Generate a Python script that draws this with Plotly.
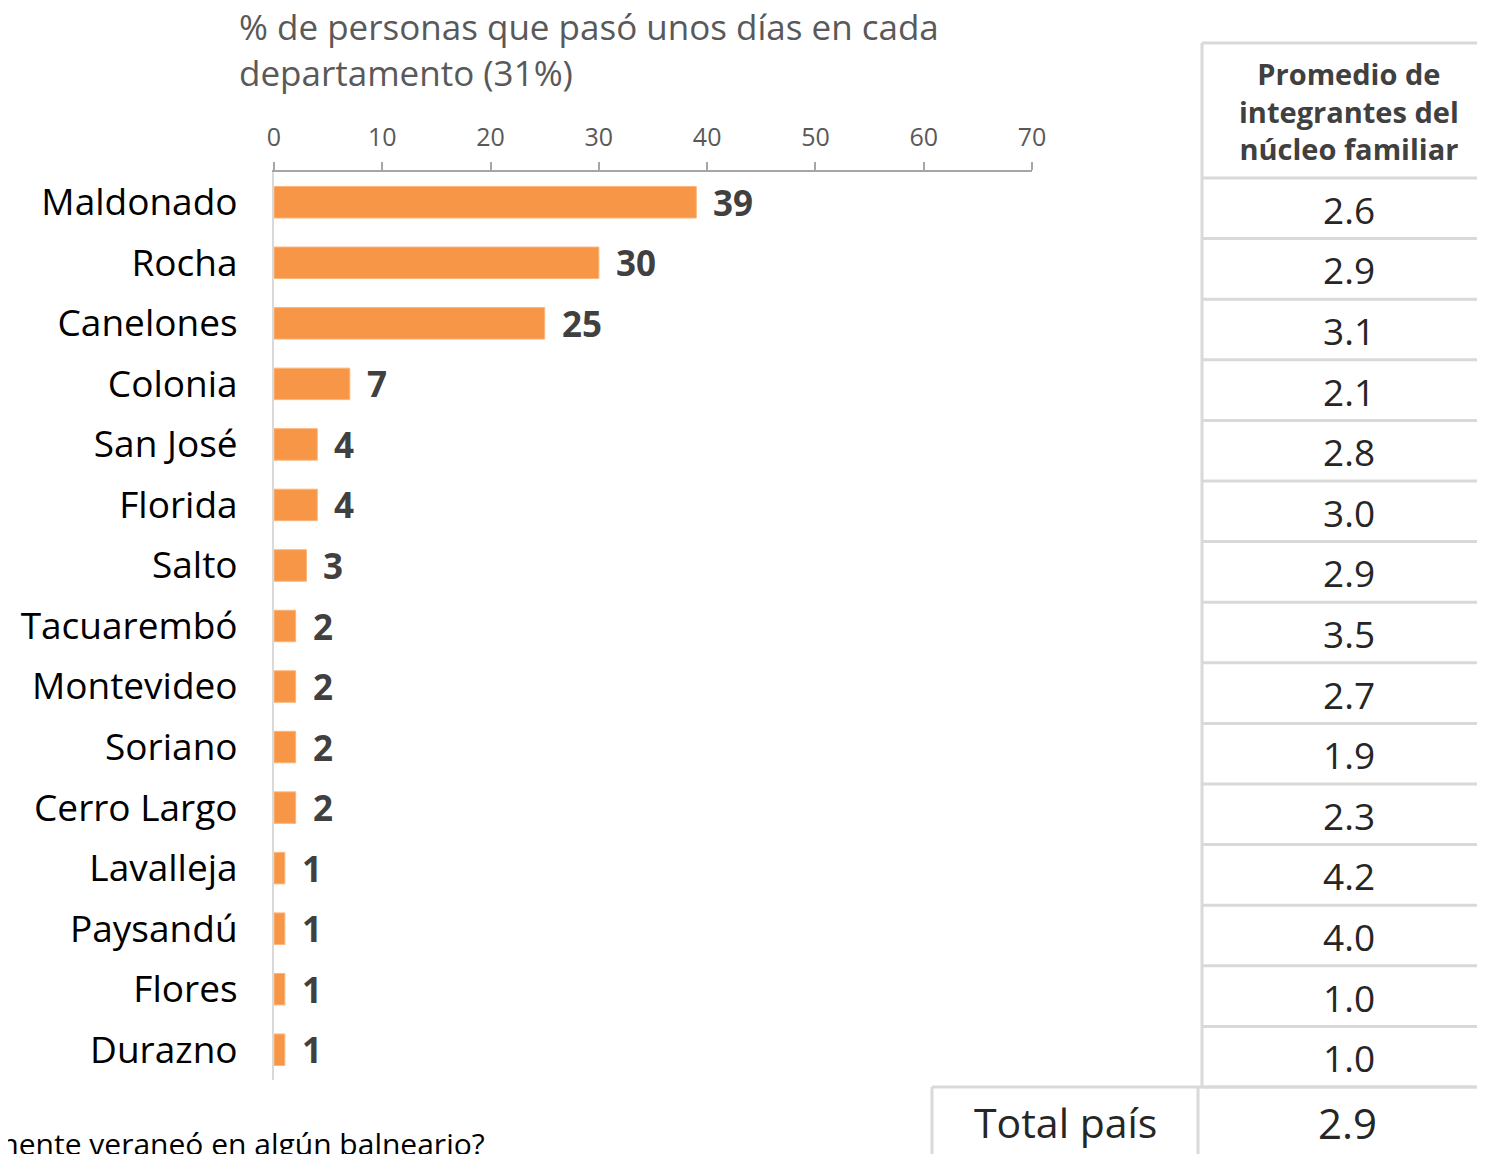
import plotly.graph_objects as go

departamentos = ["Maldonado", "Rocha", "Canelones", "Colonia", "San José", "Florida", "Salto",
                 "Tacuarembó", "Montevideo", "Soriano", "Cerro Largo", "Lavalleja", "Paysandú",
                 "Flores", "Durazno"]
porcentaje = [39, 30, 25, 7, 4, 4, 3, 2, 2, 2, 2, 1, 1, 1, 1]
promedio_integrantes = [2.6, 2.9, 3.1, 2.1, 2.8, 3.0, 2.9, 3.5, 2.7, 1.9, 2.3, 4.2, 4.0, 1.0, 1.0]
total_pais_label = "Total país"
total_pais_valor = 2.9
x_ticks = [0, 10, 20, 30, 40, 50, 60, 70]
titulo = "% de personas que pasó unos días en cada<br>departamento (31%)"
encabezado_tabla = "Promedio de<br>integrantes del<br>núcleo familiar"
pie = "mente veraneó en algún balneario?"

W, H = 1485, 1154          # screen size
OFF = 8                    # page body margin
L, R, T, B = 274, 1032, 172, 1080   # plot area in screen pixels
FONT = "Open Sans"
FIG_W, FIG_H = W - OFF, H - OFF


def px(x):
    return (x - L) / (R - L)


def py(y):
    return (B - y) / (B - T)


fig = go.Figure()
fig.add_trace(go.Bar(
    x=porcentaje, y=departamentos, orientation="h",
    marker=dict(color="#F79646", line=dict(color="#FBB57A", width=1)),
    width=0.52, hoverinfo="skip",
))

annotations = []
for d, v in zip(departamentos, porcentaje):
    annotations.append(dict(x=v, y=d, xref="x", yref="y", text=f"<b>{v}</b>", showarrow=False,
                            xanchor="left", yanchor="middle", xshift=15,
                            font=dict(family=FONT, size=35, color="#404040")))

# Title
annotations.append(dict(x=px(237), y=py(1), xref="paper", yref="paper", text=titulo,
                        showarrow=False, xanchor="left", yanchor="top", align="left",
                        font=dict(family=FONT, size=35, color="#595959")))

# Table
shapes = []
lc = "#D9D9D9"
shapes.append(dict(type="line", xref="paper", yref="paper", x0=px(1202), x1=px(W + 5),
                   y0=py(43), y1=py(43), line=dict(color=lc, width=3)))
shapes.append(dict(type="line", xref="paper", yref="paper", x0=px(1202), x1=px(1202),
                   y0=py(43), y1=py(1087), line=dict(color=lc, width=3)))
row_top = 178.0
row_h = (1087 - 178) / 15
for i in range(16):
    yy = row_top + i * row_h
    shapes.append(dict(type="line", xref="paper", yref="paper", x0=px(1202), x1=px(W + 5),
                       y0=py(yy), y1=py(yy), line=dict(color=lc, width=3)))
annotations.append(dict(x=px(1349), y=py(111), xref="paper", yref="paper", text="<b>" + encabezado_tabla + "</b>",
                        showarrow=False, xanchor="center", yanchor="middle", align="center",
                        font=dict(family=FONT, size=29, color="#404040")))
for i, v in enumerate(promedio_integrantes):
    yc = row_top + (i + 0.5) * row_h
    annotations.append(dict(x=px(1349), y=py(yc + 1), xref="paper", yref="paper", text=f"{v:.1f}",
                            showarrow=False, xanchor="center", yanchor="middle",
                            font=dict(family=FONT, size=37, color="#262626")))
# Total row
shapes.append(dict(type="line", xref="paper", yref="paper", x0=px(932), x1=px(W + 5),
                   y0=py(1087), y1=py(1087), line=dict(color=lc, width=3)))
shapes.append(dict(type="line", xref="paper", yref="paper", x0=px(932), x1=px(932),
                   y0=py(1087), y1=py(H + 5), line=dict(color=lc, width=3)))
shapes.append(dict(type="line", xref="paper", yref="paper", x0=px(1198), x1=px(1198),
                   y0=py(1087), y1=py(H + 5), line=dict(color=lc, width=3)))
annotations.append(dict(x=px(1065), y=py(1122), xref="paper", yref="paper", text=total_pais_label,
                        showarrow=False, xanchor="center", yanchor="middle",
                        font=dict(family=FONT, size=41, color="#262626")))
annotations.append(dict(x=px(1347), y=py(1122), xref="paper", yref="paper", text=f"{total_pais_valor:.1f}",
                        showarrow=False, xanchor="center", yanchor="middle",
                        font=dict(family=FONT, size=42, color="#262626")))
# Footer (cut off at the page edge, as in the source)
annotations.append(dict(x=px(487), y=py(1143), xref="paper", yref="paper", text=pie,
                        showarrow=False, xanchor="right", yanchor="middle",
                        font=dict(family=FONT, size=30, color="#000000")))

fig.update_layout(
    width=FIG_W, height=FIG_H,
    margin=dict(l=L - OFF, r=(FIG_W + OFF) - R, t=T - OFF, b=(FIG_H + OFF) - B, autoexpand=False),
    paper_bgcolor="white", plot_bgcolor="white",
    showlegend=False,
    annotations=annotations, shapes=shapes,
    xaxis=dict(range=[0, 70], side="top", tickvals=x_ticks, ticks="outside", ticklen=8,
               tickcolor="#A6A6A6", tickwidth=1.5, showline=True, linecolor="#A6A6A6", linewidth=2,
               showgrid=False, zeroline=False, ticklabelstandoff=6,
               tickfont=dict(family=FONT, size=25, color="#595959")),
    yaxis=dict(categoryorder="array", categoryarray=departamentos[::-1], autorange=False,
               range=[-0.5, 14.5], showline=True, linecolor="#D9D9D9", linewidth=2,
               showgrid=False, zeroline=False, ticks="", ticklabelstandoff=27,
               tickfont=dict(family=FONT, size=37, color="#000000")),
)

fig.write_html("out.html")
